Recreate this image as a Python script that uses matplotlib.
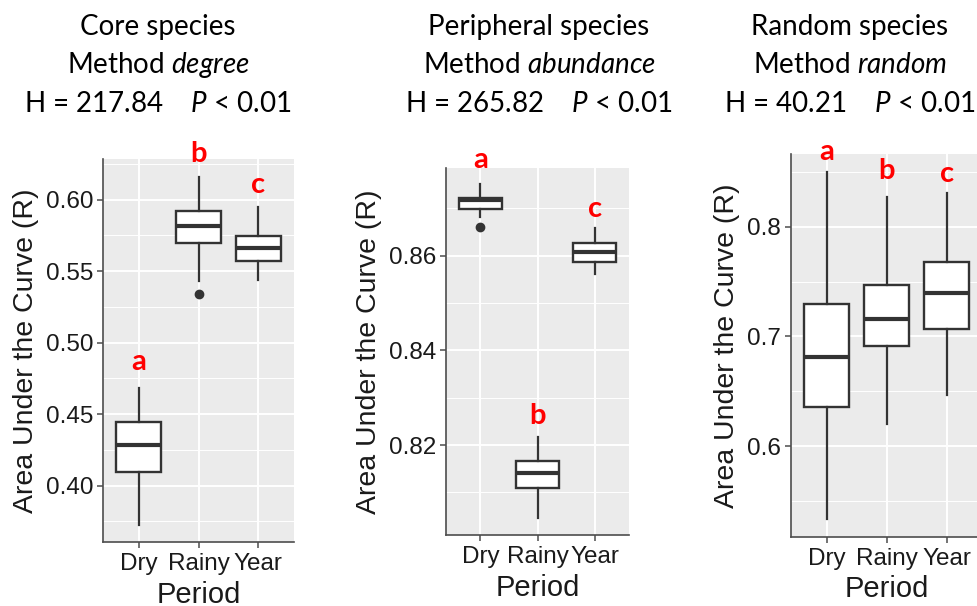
import matplotlib
matplotlib.use('Agg')
import matplotlib.pyplot as plt

plt.rcParams['mathtext.fontset'] = 'custom'
plt.rcParams['mathtext.rm'] = 'Lato'
plt.rcParams['mathtext.it'] = 'Lato:italic'

periods = ['Dry', 'Rainy', 'Year']

# summary stats: whisker low, Q1, median, Q3, whisker high
core_lo = [0.3725, 0.5432, 0.5439]
core_q1 = [0.4098, 0.5699, 0.5572]
core_med = [0.4283, 0.5814, 0.5661]
core_q3 = [0.4445, 0.5919, 0.5748]
core_hi = [0.4685, 0.6157, 0.5947]
core_out = [[], [0.5341], []]

peri_lo = [0.8681, 0.8045, 0.8561]
peri_q1 = [0.8698, 0.8109, 0.8587]
peri_med = [0.8717, 0.8142, 0.8608]
peri_q3 = [0.8721, 0.8166, 0.8627]
peri_hi = [0.8751, 0.8218, 0.8659]
peri_out = [[0.8661], [], []]

rand_lo = [0.5332, 0.6198, 0.6465]
rand_q1 = [0.6356, 0.6909, 0.7070]
rand_med = [0.6815, 0.7161, 0.7396]
rand_q3 = [0.7298, 0.7469, 0.7675]
rand_hi = [0.8501, 0.8273, 0.8310]
rand_out = [[], [], []]

core_letters = ['a', 'b', 'c']
peri_letters = ['a', 'b', 'c']
rand_letters = ['a', 'b', 'c']
core_letter_y = [0.4809, 0.6266, 0.6049]
peri_letter_y = [0.8785, 0.8244, 0.8681]
rand_letter_y = [0.8604, 0.8434, 0.8404]

titles = [['Core species', r'Method $degree$', r'H = 217.84    $P$ < 0.01'],
          ['Peripheral species', r'Method $abundance$', r'H = 265.82    $P$ < 0.01'],
          ['Random species', r'Method $random$', r'H = 40.21    $P$ < 0.01']]
title_x = [158, 539, 850]

panels = [
    dict(lo=core_lo, q1=core_q1, med=core_med, q3=core_q3, hi=core_hi, out=core_out,
         letters=core_letters, ly=core_letter_y,
         pos=[103, 159, 294, 542], ylim=(0.3606, 0.6285),
         major=[0.40, 0.45, 0.50, 0.55, 0.60], fmt='%.2f'),
    dict(lo=peri_lo, q1=peri_q1, med=peri_med, q3=peri_q3, hi=peri_hi, out=peri_out,
         letters=peri_letters, ly=peri_letter_y,
         pos=[446, 167.7, 629, 535], ylim=(0.8010, 0.8786),
         major=[0.82, 0.84, 0.86], fmt='%.2f'),
    dict(lo=rand_lo, q1=rand_q1, med=rand_med, q3=rand_q3, hi=rand_hi, out=rand_out,
         letters=rand_letters, ly=rand_letter_y,
         pos=[790.7, 154, 982.7, 536.7], ylim=(0.5173, 0.8663),
         major=[0.6, 0.7, 0.8], fmt='%.1f'),
]

W, H = 977, 606
fig = plt.figure(figsize=(9.77, 6.06), dpi=100)

dark = '#333333'
for i, p in enumerate(panels):
    l, t, r, b = p['pos']
    ax = fig.add_axes([l / W, (H - b) / H, (r - l) / W, (b - t) / H])
    ax.set_facecolor('#EBEBEB')
    stats = []
    for k in range(3):
        stats.append(dict(whislo=p['lo'][k], q1=p['q1'][k], med=p['med'][k],
                          q3=p['q3'][k], whishi=p['hi'][k], fliers=p['out'][k]))
    ax.bxp(stats, positions=[1, 2, 3], widths=0.75, patch_artist=True, showcaps=False,
           boxprops=dict(facecolor='white', edgecolor=dark, linewidth=1.7),
           medianprops=dict(color=dark, linewidth=3.0),
           whiskerprops=dict(color=dark, linewidth=1.6),
           flierprops=dict(marker='o', markerfacecolor=dark, markeredgecolor=dark,
                           markersize=6),
           zorder=3)
    ax.set_xlim(0.4, 3.6)
    ax.set_ylim(*p['ylim'])
    ax.set_xticks([1, 2, 3])
    ax.set_xticklabels(periods)
    ax.set_yticks(p['major'])
    ax.set_yticklabels([p['fmt'] % v for v in p['major']])
    step = p['major'][1] - p['major'][0]
    minors = [p['major'][0] - step / 2] + [v + step / 2 for v in p['major']]
    ax.set_yticks(minors, minor=True)
    ax.grid(which='major', color='white', linewidth=1.4, zorder=0)
    ax.grid(which='minor', axis='y', color='white', linewidth=0.7, zorder=0)
    ax.set_axisbelow(True)
    ax.tick_params(which='minor', length=0)
    ax.tick_params(which='major', length=4, width=1.1, color='#4d4d4d',
                   labelsize=17.5, labelcolor='#1a1a1a', pad=3)
    ax.tick_params(axis='x', which='major', pad=4)
    for lab in ax.get_xticklabels() + ax.get_yticklabels():
        lab.set_fontfamily('Liberation Sans')
    for s in ['top', 'right']:
        ax.spines[s].set_visible(False)
    for s in ['left', 'bottom']:
        ax.spines[s].set_color('#4d4d4d')
        ax.spines[s].set_linewidth(1.2)
    ax.set_ylabel('Area Under the Curve (R)', fontsize=20.5, family='Liberation Sans',
                  color='#1a1a1a', labelpad=5)
    ax.set_xlabel('Period', fontsize=21, family='Liberation Sans',
                  color='#1a1a1a', labelpad=4)
    for k in range(3):
        ax.text(k + 1, p['ly'][k], p['letters'][k], color='red', fontsize=21,
                fontweight='bold', family='Lato', ha='center', va='baseline',
                clip_on=False)

    for j, line in enumerate(titles[i]):
        fig.text(title_x[i] / W, 1 - [35, 73.3, 111.7][j] / H, line, fontsize=20,
                 family='Lato', ha='center', va='baseline', color='black')

fig.savefig('out.png', dpi=100)
